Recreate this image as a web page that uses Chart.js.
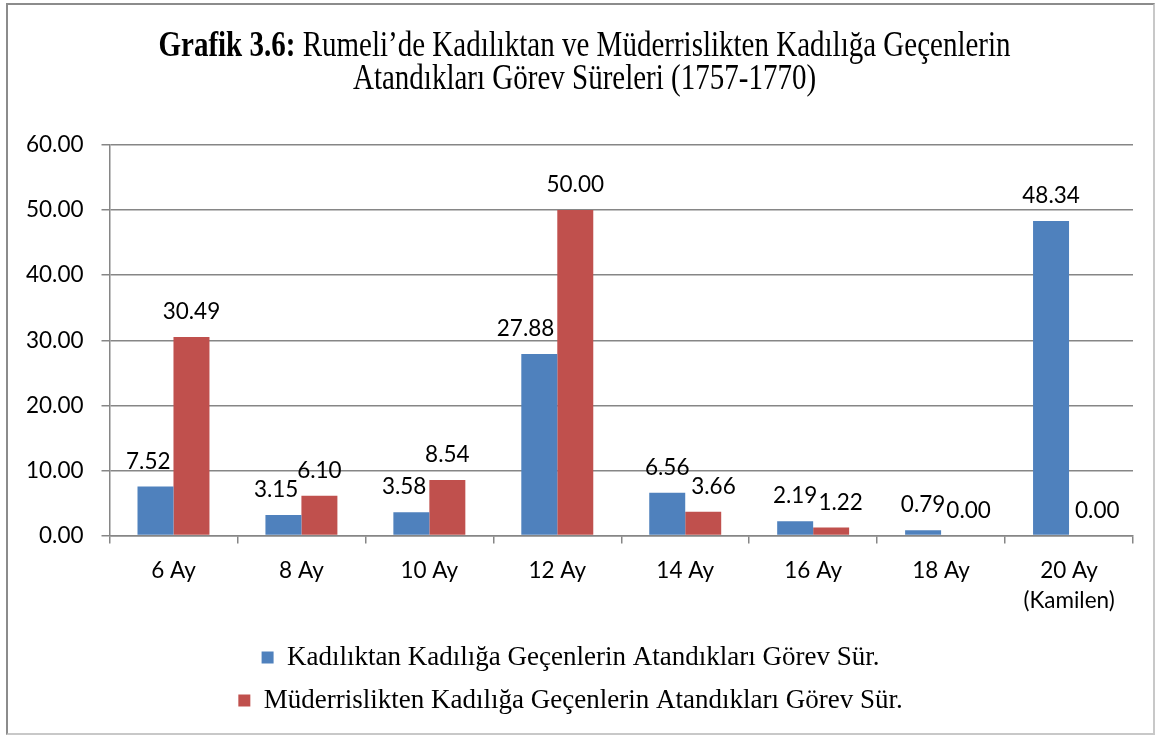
<!DOCTYPE html>
<html>
<head>
<meta charset="utf-8">
<script src="https://cdn.jsdelivr.net/npm/chart.js@4.4.0/dist/chart.umd.min.js"></script>
<style>
  body { margin: 0; background: #fff; }
  .wrap { position: relative; width: 1155px; height: 735px; }
  .frame { position: absolute; left: 6px; top: 3px; width: 1145px; height: 728px; border: 2px solid #8c8c8c; border-bottom-color: #c8c8c8; border-right-color: #c8c8c8; }
  canvas { position: absolute; left: 0; top: 0; }
</style>
</head>
<body>
<div class="wrap">
  <div class="frame"></div>
  <canvas id="chart" width="1155" height="735"></canvas>
</div>
<script>
const categories = ["6 Ay", "8 Ay", "10 Ay", "12 Ay", "14 Ay", "16 Ay", "18 Ay", ["20 Ay", "(Kamilen)"]];
const kadiliktan = [7.52, 3.15, 3.58, 27.88, 6.56, 2.19, 0.79, 48.34];
const muderrislikten = [30.49, 6.10, 8.54, 50.00, 3.66, 1.22, 0.00, 0.00];
const seriesNames = [
  "Kadılıktan Kadılığa Geçenlerin Atandıkları Görev Sür.",
  "Müderrislikten Kadılığa Geçenlerin Atandıkları Görev Sür."
];
const titleBold = "Grafik 3.6:";
const titleRest = " Rumeli’de Kadılıktan ve Müderrislikten Kadılığa Geçenlerin";
const titleLine2 = "Atandıkları Görev Süreleri (1757-1770)";

// title with bold prefix, a bit taller than wide like the original
const titlePlugin = {
  id: "mixedTitle",
  afterDraw(chart) {
    const ctx = chart.ctx;
    const cx = chart.width / 2 + 7;
    const sy = 1.2;
    ctx.save();
    ctx.scale(1, sy);
    ctx.fillStyle = "#000";
    ctx.textBaseline = "alphabetic";
    ctx.textAlign = "left";
    ctx.font = "bold 29px 'Liberation Serif'";
    const wb = ctx.measureText(titleBold).width;
    ctx.font = "29px 'Liberation Serif'";
    const wr = ctx.measureText(titleRest).width;
    const x = cx - (wb + wr) / 2;
    ctx.font = "bold 29px 'Liberation Serif'";
    ctx.fillText(titleBold, x, 56 / sy);
    ctx.font = "29px 'Liberation Serif'";
    ctx.fillText(titleRest, x + wb, 56 / sy);
    ctx.textAlign = "center";
    ctx.fillText(titleLine2, cx, 89 / sy);
    ctx.restore();
  }
};

// value labels above bars, nudged sideways when they would sit on the neighbour bar/label
const valueLabels = {
  id: "valueLabels",
  afterDatasetsDraw(chart) {
    const ctx = chart.ctx;
    ctx.save();
    ctx.font = "22.5px Lato";
    ctx.fillStyle = "#000";
    ctx.textAlign = "center";
    ctx.textBaseline = "alphabetic";
    const blue = chart.getDatasetMeta(0).data;
    const red = chart.getDatasetMeta(1).data;
    blue.forEach((b, j) => {
      const r = red[j];
      const tb = kadiliktan[j].toFixed(2);
      const tr = muderrislikten[j].toFixed(2);
      const wB = ctx.measureText(tb).width;
      const wR = ctx.measureText(tr).width;
      const baseB = b.y - 18, baseR = r.y - 18;

      let xB = b.x;
      if (baseB > r.y) xB = Math.min(xB, r.x - r.width / 2 - 3 - wB / 2);

      let xR = r.x;
      if (baseR > b.y) xR = Math.max(xR, b.x + b.width / 2 + 6 + wR / 2);
      const vOverlap = baseR - 16 < baseB && baseB - 16 < baseR;
      if (vOverlap) xR = Math.max(xR, xB + wB / 2 + wR / 2 + 1);

      ctx.fillText(tb, xB, baseB);
      ctx.fillText(tr, xR, baseR);
    });
    ctx.restore();
  }
};

new Chart(document.getElementById("chart"), {
  type: "bar",
  data: {
    labels: categories,
    datasets: [
      { label: seriesNames[0], data: kadiliktan, backgroundColor: "#4F81BD" },
      { label: seriesNames[1], data: muderrislikten, backgroundColor: "#C0504D" }
    ]
  },
  options: {
    responsive: false,
    animation: false,
    layout: { padding: { top: 145, left: 8, right: 22, bottom: 11 } },
    datasets: { bar: { barPercentage: 1, categoryPercentage: 0.5625 } },
    scales: {
      x: {
        grid: { display: true, drawOnChartArea: false, offset: true, color: "#868686", lineWidth: 1.5, tickLength: 8 },
        border: { color: "#868686", width: 1.5 },
        ticks: { color: "#000", font: { family: "Lato", size: 22.5, lineHeight: 1.3 }, padding: 13, maxRotation: 0 }
      },
      y: {
        min: 0,
        max: 60,
        grid: { color: "#868686", lineWidth: 1.5, tickLength: 8 },
        border: { color: "#868686", width: 1.5 },
        ticks: {
          stepSize: 10,
          color: "#000",
          font: { family: "Lato", size: 22.5 },
          padding: 18,
          callback: (v) => v.toFixed(2)
        }
      }
    },
    plugins: {
      title: { display: false },
      tooltip: { enabled: false },
      legend: {
        position: "bottom",
        labels: {
          color: "#000",
          font: { family: "Liberation Serif", size: 27 },
          boxWidth: 12,
          boxHeight: 12,
          padding: 16
        }
      }
    }
  },
  plugins: [titlePlugin, valueLabels]
});
</script>
</body>
</html>
